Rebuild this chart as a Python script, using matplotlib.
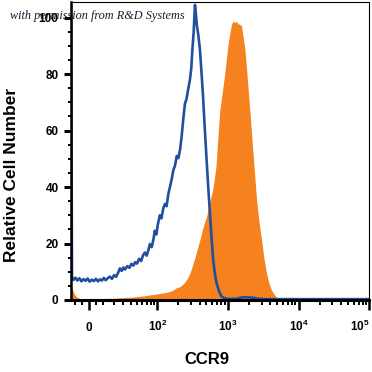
import matplotlib
matplotlib.use('Agg')
import matplotlib.pyplot as plt

plt.rcParams['font.family'] = 'Liberation Sans'
plt.rcParams['mathtext.fontset'] = 'custom'
plt.rcParams['mathtext.rm'] = 'Liberation Sans:bold'
plt.rcParams['mathtext.bf'] = 'Liberation Sans:bold'

# isotype control (blue outline)
blue_x = [-13.5, -12.8, -11.5, -10, -8.5, -7, -5.5, -4, -2.5, -1, 0.5, 2, 3.5, 5, 6.5, 8, 9.5, 11, 12.5, 14,
          16, 18, 20, 22, 24, 26, 28, 30, 32, 35, 38, 41, 44, 47, 50, 54, 58, 62, 66, 70,
          74, 78, 83, 88, 92, 97, 102, 109, 115, 122, 129, 136, 144, 152, 160, 170, 179, 190, 200, 211,
          222, 235, 248, 260, 273, 292, 305, 315, 330, 344, 355, 367, 385, 404, 427, 450, 475, 502, 530, 559,
          590, 622, 660, 695, 750, 817, 911, 1000, 1150, 1350, 1550, 1750, 2000, 2300, 2600, 3000, 3500, 4200, 5500, 8000,
          15000, 30000, 60000, 98000]
blue_y = [104, 8.2, 7.1, 7.9, 6.9, 7.7, 6.6, 7.4, 6.8, 7.6, 6.5, 7.2, 6.7, 7.5, 6.6, 7.3, 6.9, 7.8, 7.0, 7.6,
          8.3, 7.5, 8.8, 8.2, 9.6, 11.2, 10.3, 11.5, 10.8, 12.0, 11.4, 12.8, 12.2, 13.4, 12.9, 14.6, 13.8, 15.9, 16.8, 15.7,
          17.6, 19.8, 18.7, 21.5, 24.5, 23.2, 26.8, 30.0, 28.9, 32.5, 34.0, 33.2, 37.5, 40.0, 42.5, 46.0, 47.5, 51.0, 50.2, 53.0,
          57.5, 64.0, 69.5, 71.0, 74.0, 78.0, 82.0, 88.0, 95.0, 104.5, 101.0, 97.0, 93.5, 88.8, 80.0, 71.0, 60.0, 49.7, 40.0, 30.9,
          22.0, 14.2, 9.0, 6.0, 3.2, 1.2, 0.6, 0.4, 0.4, 0.5, 0.9, 1.0, 0.9, 0.8, 0.5, 0.4, 0.3, 0.3, 0.3, 0.3,
          0.3, 0.3, 0.3, 0.3]

# CCR9 stained (orange filled)
orange_x = [-13.5, -12.5, -11, -9.5, -8, -6, -4, -2, 0, 3, 6, 10, 14, 18, 22, 26, 32, 39, 46, 55,
            66, 78, 92, 109, 129, 152, 170, 190, 211, 230, 250, 270, 292, 315, 344, 370, 404, 440, 470, 502,
            540, 580, 622, 680, 732, 774, 830, 911, 1013, 1080, 1131, 1200, 1259, 1330, 1402, 1480, 1564, 1650, 1742, 1840,
            1938, 2050, 2164, 2350, 2547, 2750, 2997, 3250, 3523, 3800, 4145, 4500, 4875, 5300, 5735, 7000, 10000, 20000, 50000, 98000]
orange_y = [5.5, 4.0, 2.2, 1.2, 0.8, 0.5, 0.5, 0.4, 0.5, 0.5, 0.4, 0.5, 0.6, 0.6, 0.7, 0.8, 0.9, 1.0, 1.1, 1.3,
            1.5, 1.8, 2.0, 2.3, 2.6, 3.0, 3.6, 4.4, 4.7, 5.5, 6.5, 7.8, 9.5, 12.0, 15.0, 18.0, 21.3, 25.0, 27.5, 29.6,
            33.0, 36.5, 40.0, 47.0, 59.0, 67.5, 73.0, 80.5, 91.0, 95.0, 97.7, 98.8, 98.2, 98.6, 97.7, 97.6, 97.0, 93.0, 88.8, 82.0,
            74.6, 67.0, 59.0, 47.0, 35.5, 28.0, 21.3, 14.5, 9.5, 6.0, 3.5, 2.0, 1.0, 0.5, 0.3, 0.1, 0.0, 0.0, 0.0, 0.0]

x_ticks = [0, 100, 1000, 10000, 100000]
x_ticklabels = [r'$\mathbf{0}$', r'$\mathbf{10^{2}}$', r'$\mathbf{10^{3}}$', r'$\mathbf{10^{4}}$', r'$\mathbf{10^{5}}$']
x_minor = [-10, -5, 5, 10, 20, 30, 40, 50, 60, 70, 80, 90,
           200, 300, 400, 500, 600, 700, 800, 900,
           2000, 3000, 4000, 5000, 6000, 7000, 8000, 9000,
           20000, 30000, 40000, 50000, 60000, 70000, 80000, 90000]
y_ticks = [0, 20, 40, 60, 80, 100]

fig = plt.figure(figsize=(3.72, 3.72), dpi=100)
ax = fig.add_axes([71 / 372, 1 - 300 / 372, 298.5 / 372, 298 / 372])

ax.fill_between(orange_x, orange_y, 0, color='#f5821f', linewidth=0)
ax.plot(blue_x, blue_y, color='#1f4f9e', linewidth=1.9, solid_joinstyle='round')

ax.set_xscale('asinh', linear_width=22)
ax.set_xlim(-13.6, 98000)
ax.set_ylim(0, 105.5)

ax.set_xticks(x_ticks)
ax.set_xticklabels(x_ticklabels)
ax.set_xticks(x_minor, minor=True)
ax.set_yticks(y_ticks)
ax.set_yticks(range(0, 105, 5), minor=True)

ax.tick_params(axis='x', which='major', length=7.5, width=1.8, pad=15, labelsize=8.5)
ax.tick_params(axis='x', which='minor', length=3.8, width=1.4)
ax.tick_params(axis='y', which='major', length=5, width=2.2, pad=4, labelsize=8.5)
ax.tick_params(axis='y', which='minor', length=2.5, width=1.4)
for lbl in ax.get_xticklabels():
    lbl.set_verticalalignment('baseline')
ax.get_xticklabels()[-1].set_horizontalalignment('right')
for lbl in ax.get_yticklabels():
    lbl.set_fontweight('bold')

ax.spines['left'].set_linewidth(1.8)
ax.spines['bottom'].set_linewidth(2.2)
ax.spines['top'].set_linewidth(0.8)
ax.spines['right'].set_linewidth(0.8)

fig.text(12 / 372, 1 - 175 / 372, 'Relative Cell Number', rotation=90, fontsize=12.5,
         fontweight='bold', ha='center', va='center')
ax.set_xlabel('CCR9', fontsize=12, fontweight='bold')
ax.xaxis.set_label_coords(0.456, -0.175)

fig.text(10 / 372, 1 - 16 / 372, 'with permission from R&D Systems', family='Liberation Serif',
         style='italic', fontsize=8.8, color='#1a1a33', va='center', ha='left')

fig.savefig('out.png', dpi=100)
